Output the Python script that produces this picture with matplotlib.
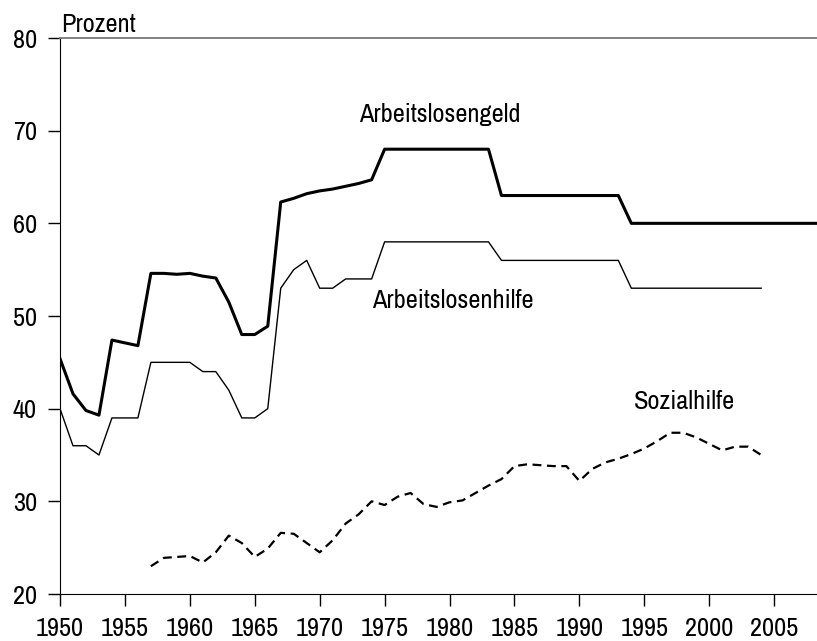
import matplotlib.pyplot as plt

plt.rcParams['font.family'] = ['Archivo Narrow', 'Roboto Condensed', 'Liberation Sans', 'DejaVu Sans']

# Arbeitslosengeld
years_alg = [1950, 1951, 1952, 1953, 1954, 1955, 1956, 1957, 1958, 1959, 1960,
             1961, 1962, 1963, 1964, 1965, 1966, 1967, 1968, 1969, 1970, 1971,
             1972, 1973, 1974, 1975, 1983, 1984, 1993, 1994, 2008.3]
alg = [45.4, 41.6, 39.8, 39.3, 47.4, 47.1, 46.8, 54.6, 54.6, 54.5, 54.6,
       54.3, 54.1, 51.5, 48.0, 48.0, 48.9, 62.3, 62.7, 63.2, 63.5, 63.7,
       64.0, 64.3, 64.7, 68.0, 68.0, 63.0, 63.0, 60.0, 60.0]

# Arbeitslosenhilfe
years_alh = [1950, 1951, 1952, 1953, 1954, 1955, 1956, 1957, 1958, 1959, 1960,
             1961, 1962, 1963, 1964, 1965, 1966, 1967, 1968, 1969, 1970, 1971,
             1972, 1973, 1974, 1975, 1983, 1984, 1993, 1994, 2004]
alh = [40, 36, 36, 35, 39, 39, 39, 45, 45, 45, 45,
       44, 44, 42, 39, 39, 40, 53, 55, 56, 53, 53,
       54, 54, 54, 58, 58, 56, 56, 53, 53]

# Sozialhilfe
years_sh = list(range(1957, 2005))
sh = [23.0, 23.9, 24.0, 24.1, 23.4, 24.5, 26.3, 25.5, 24.0, 24.9,
      26.6, 26.5, 25.5, 24.5, 25.8, 27.6, 28.6, 30.0, 29.6, 30.5,
      30.9, 29.7, 29.4, 29.9, 30.1, 30.9, 31.7, 32.4, 33.8, 34.0,
      33.9, 33.8, 33.8, 32.2, 33.5, 34.2, 34.6, 35.1, 35.7, 36.5,
      37.4, 37.4, 36.9, 36.2, 35.5, 35.9, 35.9, 35.0]

xticks = list(range(1950, 2006, 5))
yticks = [20, 30, 40, 50, 60, 70, 80]

fig = plt.figure(figsize=(8.17, 6.41), dpi=100)
ax = fig.add_axes([60 / 817, 47 / 641, 757 / 817, 556 / 641])

ax.plot(years_alg, alg, color="black", linewidth=2.2)
ax.plot(years_alh, alh, color="black", linewidth=1.0)
ax.plot(years_sh, sh, color="black", linewidth=1.6, dashes=(4, 2.5))

fs = 19
ax.text(1979.25, 70.97, "Arbeitslosengeld", fontsize=fs, ha="center", va="baseline")
ax.text(1980.26, 50.83, "Arbeitslosenhilfe", fontsize=fs, ha="center", va="baseline")
ax.text(1998.1, 39.96, "Sozialhilfe", fontsize=fs, ha="center", va="baseline")
ax.text(1950.05, 80.67, "Prozent", fontsize=fs, ha="left", va="baseline", clip_on=False)

ax.set_xlim(1950, 2008.3)
ax.set_ylim(20, 80)
ax.set_xticks(xticks)
ax.set_yticks(yticks)
ax.tick_params(direction="out", length=8.5, width=1, labelsize=fs)
ax.tick_params(axis="y", pad=8)
# x labels: put the baseline where the reference has it
ax.set_xticklabels([str(t) for t in xticks], va="baseline")
ax.tick_params(axis="x", pad=22)

ax.spines["right"].set_visible(False)
ax.spines["top"].set_color("#777777")
ax.spines["top"].set_linewidth(1.3)
ax.yaxis.get_major_ticks()[-1].tick1line.set_color("#777777")

fig.savefig("out.png", dpi=100)
